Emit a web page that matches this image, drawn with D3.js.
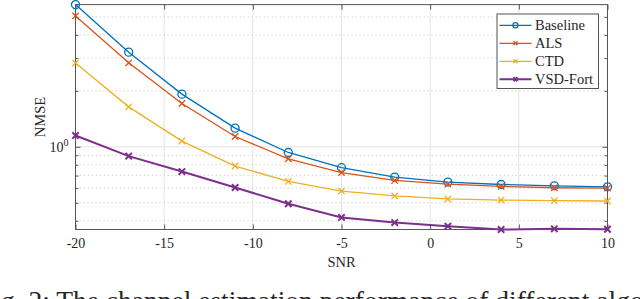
<!DOCTYPE html>
<html>
<head>
<meta charset="utf-8">
<script src="https://cdn.jsdelivr.net/npm/d3@7"></script>
<style>
  html, body { margin: 0; padding: 0; background: #fff; overflow: hidden; }
  text { font-family: "Liberation Serif", "Times New Roman", serif; fill: #262626; }
</style>
</head>
<body>
<script>
// values
const snr = [-20, -17, -14, -11, -8, -5, -2, 1, 4, 7, 10]
const baseline = [5.82, 3.23, 1.92, 1.26, 0.932, 0.772, 0.687, 0.646, 0.627, 0.617, 0.609]
const als = [5.06, 2.83, 1.71, 1.136, 0.862, 0.727, 0.659, 0.630, 0.612, 0.602, 0.600]
const ctd = [2.82, 1.64, 1.073, 0.788, 0.651, 0.578, 0.544, 0.524, 0.517, 0.513, 0.511]
const vsdFort = [1.15, 0.891, 0.736, 0.604, 0.494, 0.417, 0.391, 0.374, 0.359, 0.362, 0.360]

const seriesNames = ['Baseline', 'ALS', 'CTD', 'VSD-Fort']
const xTicks = [-20, -15, -10, -5, 0, 5, 10]
const yMajor = [1]
const yMinor = [0.4, 0.5, 0.6, 0.7, 0.8, 0.9, 2, 3, 4, 5]

const series = [
  {name: seriesNames[0], values: baseline, color: '#0072BD', marker: 'o', lw: 1.3},
  {name: seriesNames[1], values: als, color: '#D95319', marker: 'x', lw: 1.3},
  {name: seriesNames[2], values: ctd, color: '#EDB120', marker: 'x', lw: 1.3},
  {name: seriesNames[3], values: vsdFort, color: '#7E2F8E', marker: 'x', lw: 2}
]

const WIDTH = 640
const HEIGHT = 299
const LEFT = 75.5, RIGHT = 607.5, TOP = 4.6, BOTTOM = 229.5

const svg = d3.select('body').append('svg')
  .attr('width', WIDTH)
  .attr('height', HEIGHT)

const x = d3.scaleLinear().domain([-20, 10]).range([LEFT, RIGHT])
const y = d3.scaleLog().domain([0.359, 5.82]).range([BOTTOM, TOP])

// grid
const grid = svg.append('g')
grid.selectAll('.xg').data(xTicks).enter().append('line')
  .attr('x1', d => x(d)).attr('x2', d => x(d))
  .attr('y1', TOP).attr('y2', BOTTOM)
  .attr('stroke', '#e3e3e3').attr('stroke-width', 1)
grid.selectAll('.yg').data(yMajor).enter().append('line')
  .attr('x1', LEFT).attr('x2', RIGHT)
  .attr('y1', d => y(d)).attr('y2', d => y(d))
  .attr('stroke', '#e3e3e3').attr('stroke-width', 1)
grid.selectAll('.ym').data(yMinor).enter().append('line')
  .attr('x1', LEFT).attr('x2', RIGHT)
  .attr('y1', d => y(d)).attr('y2', d => y(d))
  .attr('stroke', '#d6d6d6').attr('stroke-width', 1)
  .attr('stroke-dasharray', '1.5,2.5')

// axes (ticks inside, box on)
function styleAxis(g) {
  g.select('.domain').remove()
  g.selectAll('.tick line').attr('stroke', '#555')
  g.selectAll('.tick text')
    .style('font-size', '14px')
    .attr('fill', '#262626')
}

svg.append('g')
  .attr('transform', `translate(0,${BOTTOM})`)
  .call(d3.axisBottom(x).tickValues(xTicks).tickFormat(d => String(d)).tickSizeInner(-5).tickSizeOuter(0).tickPadding(8.5))
  .call(styleAxis)

svg.append('g')
  .attr('transform', `translate(0,${TOP})`)
  .call(d3.axisTop(x).tickValues(xTicks).tickFormat('').tickSizeInner(-5).tickSizeOuter(0))
  .call(styleAxis)

svg.append('g')
  .attr('transform', `translate(${LEFT},0)`)
  .call(d3.axisLeft(y).tickValues(yMinor).tickFormat('').tickSizeInner(-3).tickSizeOuter(0))
  .call(styleAxis)

svg.append('g')
  .attr('transform', `translate(${RIGHT},0)`)
  .call(d3.axisRight(y).tickValues(yMinor).tickFormat('').tickSizeInner(-3).tickSizeOuter(0))
  .call(styleAxis)

svg.append('g')
  .attr('transform', `translate(${RIGHT},0)`)
  .call(d3.axisRight(y).tickValues(yMajor).tickFormat('').tickSizeInner(-5).tickSizeOuter(0))
  .call(styleAxis)

const yLeft = svg.append('g')
  .attr('transform', `translate(${LEFT},0)`)
  .call(d3.axisLeft(y).tickValues(yMajor).tickFormat('').tickSizeInner(-5).tickSizeOuter(0).tickPadding(6))
  .call(styleAxis)

// 10^0 label
yLeft.selectAll('.tick').append('text')
  .attr('x', -7).attr('dy', '0.32em')
  .attr('text-anchor', 'end')
  .style('font-size', '14px')
  .html('10<tspan dy="-6" font-size="10px">0</tspan>')

// box
svg.append('rect')
  .attr('x', LEFT).attr('y', TOP)
  .attr('width', RIGHT - LEFT).attr('height', BOTTOM - TOP)
  .attr('fill', 'none').attr('stroke', '#555').attr('stroke-width', 1)

// series
const line = d3.line().x((d, i) => x(snr[i])).y(d => y(d))

function drawMarker(g, type, color, cx, cy, lw) {
  if (type === 'o') {
    g.append('circle').attr('cx', cx).attr('cy', cy).attr('r', 4)
      .attr('fill', 'none').attr('stroke', color).attr('stroke-width', 1.3)
  } else {
    const s = 3.2
    g.append('path')
      .attr('d', `M${cx - s},${cy - s}L${cx + s},${cy + s}M${cx - s},${cy + s}L${cx + s},${cy - s}`)
      .attr('stroke', color).attr('stroke-width', lw)
  }
}

series.forEach(s => {
  const g = svg.append('g')
  g.append('path')
    .datum(s.values)
    .attr('d', line)
    .attr('fill', 'none')
    .attr('stroke', s.color)
    .attr('stroke-width', s.lw)
  s.values.forEach((v, i) => drawMarker(g, s.marker, s.color, x(snr[i]), y(v), s.lw))
})

// legend
const LX = 497, LY = 14, LW = 101.5, LH = 74.5
const legend = svg.append('g')
legend.append('rect')
  .attr('x', LX).attr('y', LY).attr('width', LW).attr('height', LH)
  .attr('fill', '#fff').attr('stroke', '#555').attr('stroke-width', 1)
const rowY = d3.scalePoint().domain(seriesNames).range([25.3, 79.3])
series.forEach(s => {
  const yy = rowY(s.name)
  legend.append('line')
    .attr('x1', 499.5).attr('x2', 531.5).attr('y1', yy).attr('y2', yy)
    .attr('stroke', s.color).attr('stroke-width', s.lw)
  if (s.marker === 'o') {
    legend.append('circle').attr('cx', 515.5).attr('cy', yy).attr('r', 2.6)
      .attr('fill', 'none').attr('stroke', s.color).attr('stroke-width', 1.2)
  } else {
    const k = 2
    legend.append('path')
      .attr('d', `M${515.5 - k},${yy - k}L${515.5 + k},${yy + k}M${515.5 - k},${yy + k}L${515.5 + k},${yy - k}`)
      .attr('stroke', s.color).attr('stroke-width', s.lw)
  }
  legend.append('text')
    .attr('x', 535).attr('y', yy).attr('dy', '0.35em')
    .style('font-size', '14.5px')
    .text(s.name)
})

// axis labels
svg.append('text')
  .attr('x', (LEFT + RIGHT) / 2).attr('y', 267)
  .attr('text-anchor', 'middle')
  .style('font-size', '14.5px')
  .text('SNR')

svg.append('text')
  .attr('transform', `translate(45,${(TOP + BOTTOM) / 2}) rotate(-90)`)
  .attr('text-anchor', 'middle')
  .style('font-size', '14.5px')
  .text('NMSE')

// caption (cut off at the bottom of the image)
svg.append('text')
  .attr('x', -22).attr('y', 310)
  .style('font-size', '27.5px')
  .attr('fill', '#000')
  .text('Fig. 2: The channel estimation performance of different algorithms')
</script>
</body>
</html>
